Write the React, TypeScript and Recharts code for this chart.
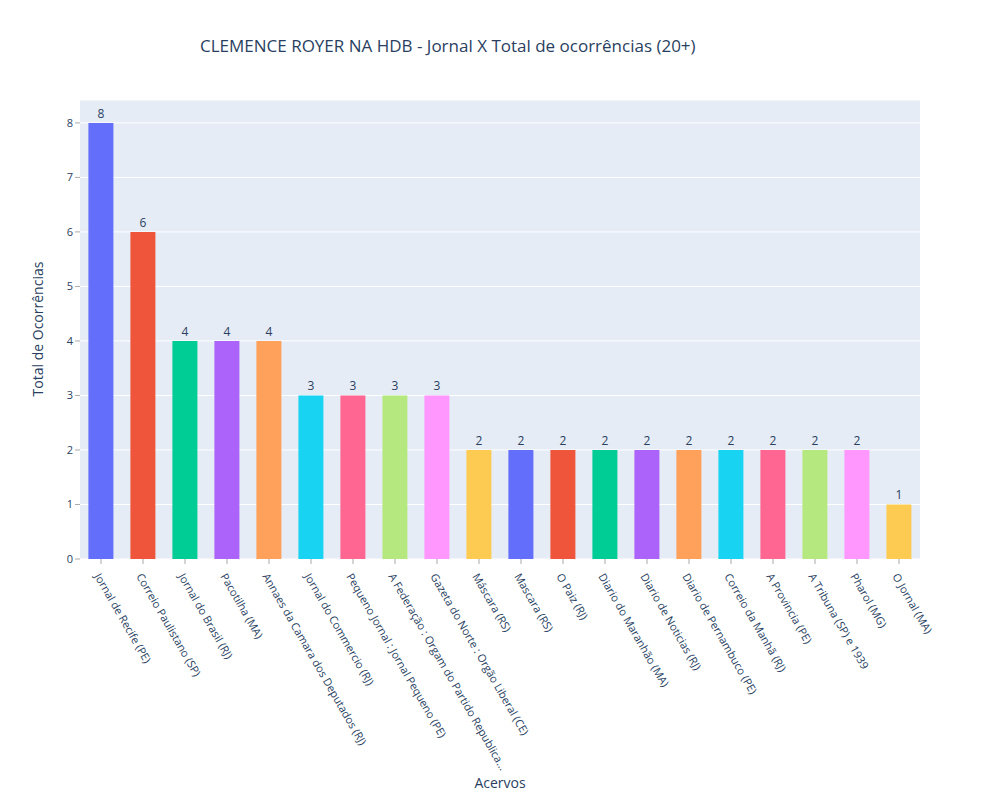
import { BarChart, Bar, XAxis, YAxis, CartesianGrid, Cell, LabelList } from "recharts";

const jornais = [
  "Jornal de Recife (PE)",
  "Correio Paulistano (SP)",
  "Jornal do Brasil (RJ)",
  "Pacotilha (MA)",
  "Annaes da Camara dos Deputados (RJ)",
  "Jornal do Commercio (RJ)",
  "Pequeno Jornal : Jornal Pequeno (PE)",
  "A Federação : Orgam do Partido Republica...",
  "Gazeta do Norte : Orgão Liberal (CE)",
  "Máscara (RS)",
  "Mascara (RS)",
  "O Paiz (RJ)",
  "Diario do Maranhão (MA)",
  "Diario de Noticias (RJ)",
  "Diario de Pernambuco (PE)",
  "Correio da Manhã (RJ)",
  "A Provincia (PE)",
  "A Tribuna (SP)  e 1939",
  "Pharol (MG)",
  "O Jornal (MA)",
];
const ocorrencias = [8, 6, 4, 4, 4, 3, 3, 3, 3, 2, 2, 2, 2, 2, 2, 2, 2, 2, 2, 1];
const palette = ["#636efa", "#EF553B", "#00cc96", "#ab63fa", "#FFA15A", "#19d3f3", "#FF6692", "#B6E880", "#FF97FF", "#FECB52"];
const yTicks = [0, 1, 2, 3, 4, 5, 6, 7, 8];

const rows = jornais.map((name, i) => ({ name, total: ocorrencias[i] }));
const font = '"Open Sans", Verdana, Arial, sans-serif';

const XTick = (props: any) => {
  const { x, y, payload } = props;
  return (
    <text
      x={0}
      y={0}
      transform={`translate(${x - 3},${y + 8}) rotate(60)`}
      textAnchor="start"
      dominantBaseline="central"
      fontSize={11}
      fill="#2a3f5f"
      fontFamily={font}
    >
      {payload.value}
    </text>
  );
};

export default function App() {
  return (
    <div style={{ position: "absolute", left: 0, top: 0, width: 1000, height: 800, background: "#fff", fontFamily: font }}>
      <div style={{ position: "absolute", left: 200, top: 34, fontSize: 17, color: "#2a3f5f" }}>
        CLEMENCE ROYER NA HDB - Jornal X Total de ocorrências (20+)
      </div>
      <div style={{ position: "absolute", left: 0, width: 1000, top: 773, textAlign: "center", fontSize: 14, color: "#2a3f5f" }}>
        Acervos
      </div>
      <div
        style={{
          position: "absolute",
          left: 37,
          top: 329,
          transform: "translate(-50%,-50%) rotate(-90deg)",
          fontSize: 14,
          color: "#2a3f5f",
          whiteSpace: "nowrap",
        }}
      >
        Total de Ocorrências
      </div>
      <BarChart
        width={1000}
        height={800}
        data={rows}
        margin={{ top: 100, right: 80, bottom: 0, left: 30 }}
        barCategoryGap="20%"
      >
        <CartesianGrid vertical={false} stroke="#ffffff" strokeWidth={1} fill="#E5ECF6" />
        <XAxis
          dataKey="name"
          interval={0}
          tick={<XTick />}
          tickSize={5}
          tickLine={{ stroke: "#aaa" }}
          axisLine={false}
          height={241}
        />
        <YAxis
          width={50}
          domain={[0, 8.42]}
          ticks={yTicks}
          tickSize={5}
          tickLine={{ stroke: "#aaa" }}
          axisLine={false}
          tick={{ fontSize: 11, fill: "#2a3f5f", fontFamily: font }}
        />
        <Bar dataKey="total" isAnimationActive={false}>
          {rows.map((_, i) => (
            <Cell key={i} fill={palette[i % palette.length]} />
          ))}
          <LabelList dataKey="total" position="top" offset={5} fill="#2a3f5f" fontSize={12} fontFamily={font} />
        </Bar>
      </BarChart>
    </div>
  );
}
